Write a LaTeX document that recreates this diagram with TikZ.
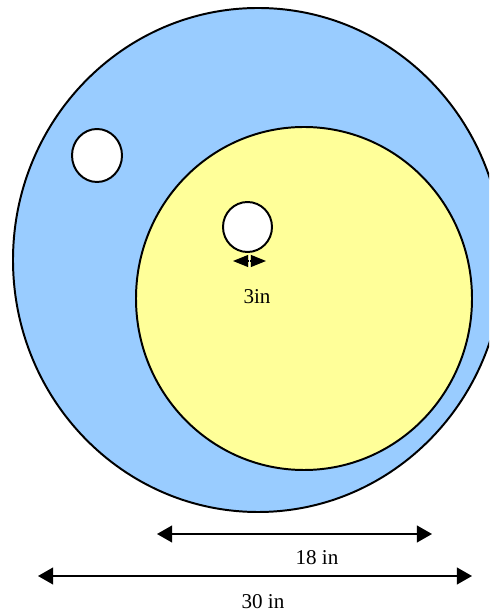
\documentclass[tikz,border=0pt]{standalone}
\usepackage{fontspec}
\setmainfont{Liberation Serif}
\usepackage{tikz}
\usetikzlibrary{arrows.meta, positioning, calc}
\usepackage{xcolor}
\definecolor{softblue}{RGB}{153,204,255}
\definecolor{softyellow}{RGB}{255,255,153}

\begin{document}
\begin{tikzpicture}[
  outline/.style={draw=black, line width=1.4pt},
  dimline/.style={line width=1.4pt, {Triangle[length=0.38cm, width=0.42cm]}-{Triangle[length=0.38cm, width=0.42cm]}},
  smallhead/.style={line width=0.8pt, -{Triangle[length=0.38cm, width=0.3cm]}},
  dimlabel/.style={font=\fontsize{15}{18}\selectfont, inner sep=0pt}
]
  % Frame
  \clip (0, 0) rectangle (12.225, 15.3);

  % Discs
  \fill[softblue, outline] (6.45, 8.8) ellipse [x radius=6.125, y radius=6.3];
  \fill[softyellow, outline] (7.6, 7.8375) ellipse [x radius=4.2, y radius=4.2875];

  % Holes
  \fill[white, outline] (2.425, 11.4125) ellipse [x radius=0.625, y radius=0.6625];
  \fill[white, outline] (6.1875, 9.625) ellipse [x radius=0.6125, y radius=0.625];

  % Hole width
  \coordinate (holemid) at (6.2375, 8.775);
  \coordinate (holeleft) at (5.825, 8.775);
  \coordinate (holeright) at (6.65, 8.775);
  \draw[smallhead] (holemid) -- (holeleft);
  \draw[smallhead] (holemid) -- (holeright);
  \coordinate (ticktop) at (6.2375, 8.925);
  \coordinate (tickbot) at (6.2375, 8.625);
  \draw[white, line width=0.6pt] (ticktop) -- (tickbot);
  \node[dimlabel] (holetext) at (6.425, 7.875) {3in};

  % Inner diameter
  \coordinate (innerleft) at (3.925, 1.95);
  \coordinate (innerright) at (10.8, 1.95);
  \draw[dimline] (innerleft) -- (innerright);
  \node[dimlabel] (innertext) at (7.925, 1.35) {18 in};

  % Outer diameter
  \coordinate (outerleft) at (0.95, 0.9);
  \coordinate (outerright) at (11.8, 0.9);
  \draw[dimline] (outerleft) -- (outerright);
  \node[dimlabel] (outertext) at (6.575, 0.25) {30 in};
\end{tikzpicture}
\end{document}
